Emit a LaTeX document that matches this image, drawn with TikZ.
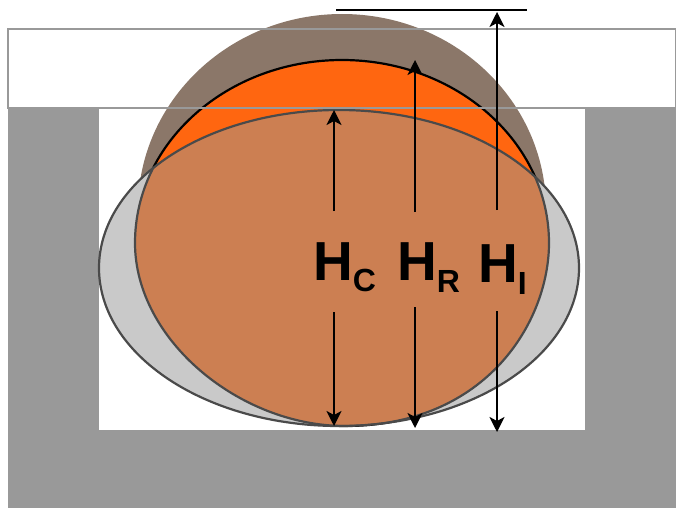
\documentclass[tikz,border=0pt]{standalone}
\usepackage{xcolor}
\usepackage{fontspec}
\setmainfont{Liberation Sans}
\usetikzlibrary{arrows.meta,positioning}
\definecolor{wallgray}{HTML}{999999}
\definecolor{domebrown}{HTML}{8B7769}
\definecolor{roundorange}{HTML}{FF6610}
\definecolor{overlaptan}{HTML}{CC7F52}
\definecolor{lensgray}{HTML}{C9C9C9}
\definecolor{edgegray}{HTML}{4A4A4A}
\newcommand{\roundpath}{(135,243) arc [start angle=180, end angle=0, x radius=207pt, y radius=183pt]
  .. controls (549,320) and (488,426) .. (345,426)
  .. controls (240,426) and (135,340) .. (135,243) -- cycle}

\begin{document}
\begin{tikzpicture}[
  x=1pt, y=-1pt,
  wall/.style={fill=wallgray, draw=none},
  outline/.style={draw=edgegray, line width=2.2pt},
  label/.style={anchor=base west, inner sep=0pt, font=\fontsize{55}{55}\selectfont\bfseries},
  arrow/.style={-{Stealth[length=15pt, width=15pt, inset=4pt]}, line width=2.2pt}
]
\useasboundingbox (0,0) rectangle (676,508);

% mould
\fill[wall] (8,108) rectangle (676,508);
\fill[white] (99,108) rectangle (585,430);

% shapes
\fill[domebrown] (342,209) ellipse [x radius=204pt, y radius=195pt];
\fill[roundorange] \roundpath;
\draw[black, line width=2.2pt] \roundpath;
\fill[lensgray] (339,268) ellipse [x radius=240pt, y radius=158pt];
\begin{scope}
  \clip (339,268) ellipse [x radius=240pt, y radius=158pt];
  \fill[overlaptan] \roundpath;
  \draw[outline] \roundpath;
\end{scope}
\draw[outline] (339,268) ellipse [x radius=240pt, y radius=158pt];

% cover plate
\draw[draw=wallgray, line width=2.6pt] (8,29) rectangle (676,108);

% labels
\node[label] (hc) at (313,280) {H\raisebox{-11pt}{\fontsize{32}{32}\selectfont C}};
\node[label] (hr) at (397,280) {H\raisebox{-12pt}{\fontsize{32}{32}\selectfont R}};
\node[label] (hi) at (478,282) {H\raisebox{-12pt}{\fontsize{32}{32}\selectfont I}};

% arrow ends
\coordinate (hcupstart) at (334,211);
\coordinate (hcup) at (334,110);
\coordinate (hcdownstart) at (334,312);
\coordinate (hcdown) at (334,426);
\coordinate (hrupstart) at (415,212);
\coordinate (hrup) at (415,60);
\coordinate (hrdownstart) at (415,307);
\coordinate (hrdown) at (415,428);
\coordinate (hiupstart) at (497,210);
\coordinate (hiup) at (497,12);
\coordinate (hidownstart) at (497,311);
\coordinate (hidown) at (497,432);
\coordinate (topleft) at (336,10);
\coordinate (topright) at (527,10);

\draw[arrow] (hcupstart) -- (hcup);
\draw[arrow] (hcdownstart) -- (hcdown);
\draw[arrow] (hrupstart) -- (hrup);
\draw[arrow] (hrdownstart) -- (hrdown);
\draw[arrow] (hiupstart) -- (hiup);
\draw[arrow] (hidownstart) -- (hidown);
\draw[line width=2.2pt] (topleft) -- (topright);

\end{tikzpicture}
\end{document}
